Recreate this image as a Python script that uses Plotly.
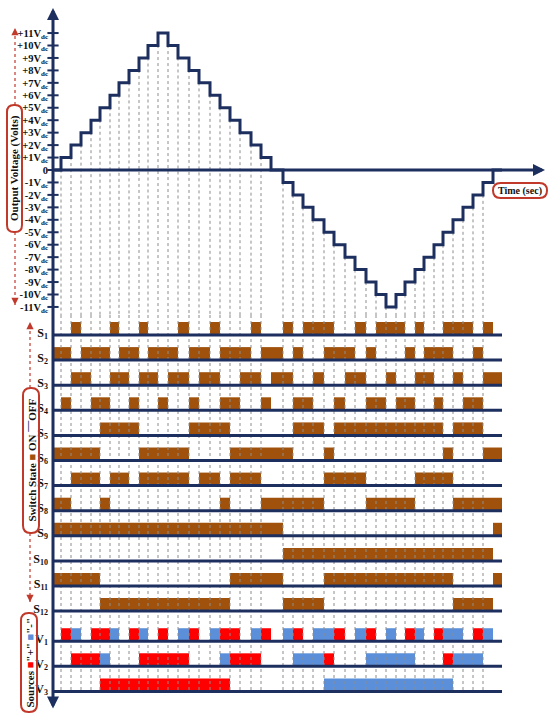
import plotly.graph_objects as go

# ---------------------------------------------------------------------------
# Waveform data: 23-level staircase over one fundamental cycle
# ---------------------------------------------------------------------------
# switching instants (time units, cycle starts at 0)
t_edges = [0, 8, 18, 28, 38, 47, 57, 66, 76, 86, 95, 105, 115, 125, 136, 146,
           157, 167, 177, 187, 198, 208, 218, 230, 240, 250, 260, 271, 281,
           292, 302, 313, 323, 333, 343, 352, 362, 371, 381, 390, 400, 410,
           420, 430, 440, 449]

# output level (multiples of Vdc) held between consecutive instants
levels = [0, 1, 2, 3, 4, 5, 6, 7, 8, 9, 10, 11, 10, 9, 8, 7, 6, 5, 4, 3, 2, 1, 0,
          -1, -2, -3, -4, -5, -6, -7, -8, -9, -10, -11, -10, -9, -8, -7, -6,
          -5, -4, -3, -2, -1, 0]

# conducting intervals of each switch (index of the interval in `levels`)
s1_on = [2, 6, 9, 13, 16, 20, 23, 25, 26, 27, 30, 32, 33, 34, 36, 39, 40, 41, 43]
s2_on = [0, 1, 3, 4, 5, 7, 8, 10, 11, 12, 14, 15, 17, 18, 19, 21, 22, 24,
         27, 28, 29, 31, 35, 37, 38, 39, 42]
s3_on = [2, 3, 6, 7, 9, 10, 12, 13, 15, 16, 19, 20, 22, 23, 26, 29, 30, 33,
         36, 37, 40, 43, 44]
s4_on = [1, 4, 5, 8, 11, 14, 17, 18, 21, 24, 25, 28, 31, 32, 34, 35, 38, 41, 42]
s5_on = [5, 6, 7, 8, 14, 15, 16, 17, 24, 25, 26, 28, 29, 30, 31, 32, 33, 34,
         35, 36, 37, 38, 40, 41, 42]
s6_on = [0, 1, 2, 3, 4, 9, 10, 11, 12, 13, 18, 19, 20, 21, 22, 23, 27, 39, 43, 44]
s7_on = [2, 3, 4, 6, 7, 9, 10, 11, 12, 13, 15, 16, 18, 19, 20, 27, 28, 29, 30,
         36, 37, 38, 39]
s8_on = [0, 1, 5, 17, 21, 22, 23, 24, 25, 26, 31, 32, 33, 34, 35, 40, 41, 42, 43, 44]
s9_on = list(range(0, 23)) + [44]
s10_on = list(range(23, 44))
s11_on = [0, 1, 2, 3, 4, 18, 19, 20, 21, 22] + list(range(27, 40)) + [44]
s12_on = list(range(5, 18)) + [23, 24, 25, 26, 40, 41, 42, 43]

# dc sources: intervals inserted with "+" polarity and with "-" polarity
v1_pos = [1, 4, 5, 8, 11, 14, 17, 18, 21, 24, 28, 31, 35, 38, 42]
v1_neg = [2, 6, 9, 13, 16, 20, 23, 26, 27, 30, 33, 36, 39, 40, 43]
v2_pos = [2, 3, 4, 9, 10, 11, 12, 13, 18, 19, 20, 27, 39]
v2_neg = [5, 17, 24, 25, 26, 31, 32, 33, 34, 35, 40, 41, 42]
v3_pos = list(range(5, 18))
v3_neg = list(range(27, 40))


def sub(text, size):
    """Lowered, smaller index text."""
    return ("<span style='font-size:%spx;baseline-shift:-%spx'>%s</span>"
            % (size, round(size * 0.25, 1), text))


switch_labels = ["S" + sub(str(k), 8) for k in range(1, 13)]
source_labels = ["V" + sub(str(k), 8) for k in range(1, 4)]

level_ticks = list(range(-11, 12))
level_labels = [("+%dV" % v + sub("dc", 7)) if v > 0 else
                ("0" if v == 0 else "%dV" % v + sub("dc", 7)) for v in level_ticks]

# ---------------------------------------------------------------------------
# Layout geometry (page pixels)
# ---------------------------------------------------------------------------
W, H = 549, 715
ORIGIN_X = 53          # time origin / vertical axis
ZERO_Y = 170           # 0 V line
LEVEL_PX = 12.45       # pixels per Vdc
SPLIT_Y = 315          # border between the voltage panel and the state panel
ROW0_Y = 335           # baseline of S1
ROW_PX = 25.1          # row pitch
BAR_H = 13 / ROW_PX    # height of an ON block (row units)

NAVY = "#1c2f5e"
BROWN = "#a0520c"
RED = "#ff0000"
BLUE = "#5b8fd9"
GUIDE = "#8c8c8c"
BOX_RED = "#c0392b"
FONT = "Liberation Serif"

switch_rows = [s1_on, s2_on, s3_on, s4_on, s5_on, s6_on, s7_on, s8_on,
               s9_on, s10_on, s11_on, s12_on]
switch_pos = list(range(12))
source_pos = [12.2, 13.2, 14.2]
source_rows = [(v1_pos, v1_neg), (v2_pos, v2_neg), (v3_pos, v3_neg)]


def runs(idx):
    """Merge consecutive interval indices into (first, last) runs."""
    idx = sorted(idx)
    out = []
    for i in idx:
        if out and i == out[-1][1] + 1:
            out[-1][1] = i
        else:
            out.append([i, i])
    return out


def px(x):
    return x / W


def py(y):
    return 1 - y / H


fig = go.Figure()

# ---- dotted guide lines at every switching instant ------------------------
guide_idx = [k for k in range(1, len(levels)) if k not in (22, 44)]
gx_top, gy_top, gx_bot, gy_bot = [], [], [], []
top_min = (ZERO_Y - SPLIT_Y) / LEVEL_PX
bot_max = (ROW0_Y - SPLIT_Y) / ROW_PX
for k in guide_idx:
    a, b = levels[k - 1], levels[k]
    corner = max(a, b) if (a + b) > 0 else min(a, b)
    gx_top += [t_edges[k], t_edges[k], None]
    gy_top += [corner, top_min, None]
    gx_bot += [t_edges[k], t_edges[k], None]
    gy_bot += [bot_max, -source_pos[-1], None]

fig.add_trace(go.Scatter(x=gx_top, y=gy_top, mode="lines", yaxis="y",
                         line=dict(color=GUIDE, width=1, dash="dot"),
                         hoverinfo="skip"))
fig.add_trace(go.Scatter(x=gx_bot, y=gy_bot, mode="lines", yaxis="y2",
                         line=dict(color=GUIDE, width=1, dash="dot"),
                         hoverinfo="skip"))


# ---- ON blocks ------------------------------------------------------------
def add_blocks(idx_list, base, color):
    xs, ws = [], []
    for a, b in runs(idx_list):
        t0, t1 = t_edges[a], t_edges[b + 1]
        xs.append((t0 + t1) / 2)
        ws.append(t1 - t0)
    if not xs:
        return
    fig.add_trace(go.Bar(x=xs, width=ws, y=[BAR_H] * len(xs),
                         base=[base] * len(xs), yaxis="y2",
                         marker=dict(color=color, line=dict(width=0)),
                         hoverinfo="skip"))


for row, pos in zip(switch_rows, switch_pos):
    add_blocks(row, -pos, BROWN)
for (pos_idx, neg_idx), pos in zip(source_rows, source_pos):
    add_blocks(pos_idx, -pos, RED)
    add_blocks(neg_idx, -pos, BLUE)

# ---- row baselines --------------------------------------------------------
bx, by = [], []
for pos in switch_pos + source_pos:
    bx += [t_edges[0], t_edges[-1], None]
    by += [-pos, -pos, None]
fig.add_trace(go.Scatter(x=bx, y=by, mode="lines", yaxis="y2",
                         line=dict(color=NAVY, width=3), hoverinfo="skip"))

# ---- staircase output voltage --------------------------------------------
fig.add_trace(go.Scatter(x=t_edges, y=levels + [levels[-1]], mode="lines",
                         line=dict(color=NAVY, width=3, shape="hv"),
                         yaxis="y", hoverinfo="skip"))

# cross ticks on the voltage axis
fig.add_trace(go.Scatter(x=[0] * len(level_ticks), y=level_ticks, mode="markers",
                         yaxis="y",
                         marker=dict(symbol="line-ew", size=8,
                                     line=dict(color=NAVY, width=2)),
                         hoverinfo="skip"))

# ---- axes -------------------------------------------------------------------
split = py(SPLIT_Y)
fig.update_layout(
    width=W, height=H, margin=dict(l=0, r=0, t=0, b=0),
    paper_bgcolor="white", plot_bgcolor="white",
    showlegend=False, barmode="overlay",
    xaxis=dict(domain=[0, 1], range=[-ORIGIN_X, W - ORIGIN_X], visible=False,
               anchor="y2"),
    yaxis=dict(domain=[split, 1],
               range=[top_min, ZERO_Y / LEVEL_PX],
               anchor="free", position=px(ORIGIN_X),
               showgrid=False, zeroline=False, showline=False, ticks="",
               tickvals=level_ticks, ticktext=level_labels,
               ticklabelstandoff=5,
               tickfont=dict(family=FONT, size=10.5, color="#111111",
                             weight="bold")),
    yaxis2=dict(domain=[0, split],
                range=[-(H - ROW0_Y) / ROW_PX, bot_max],
                anchor="free", position=px(ORIGIN_X),
                showgrid=False, zeroline=False, showline=False, ticks="",
                tickvals=[-p + 0.1 for p in switch_pos + source_pos],
                ticktext=switch_labels + source_labels,
                ticklabelstandoff=5,
                tickfont=dict(family=FONT, size=12, color="#111111",
                              weight="bold")),
)

# vertical axis with arrowheads at both ends
fig.add_annotation(x=px(ORIGIN_X), y=py(8), xref="paper", yref="paper",
                   ax=0, ay=702, axref="pixel", ayref="pixel", text="",
                   showarrow=True, arrowhead=2, arrowside="end+start",
                   arrowwidth=3, arrowsize=0.8, arrowcolor=NAVY)
# time axis
fig.add_annotation(x=W - 4 - ORIGIN_X, y=0, xref="x", yref="y",
                   ax=0, ay=0, axref="x", ayref="y", text="",
                   showarrow=True, arrowhead=2, arrowwidth=3, arrowsize=0.8,
                   arrowcolor=NAVY)


# ---- rounded label boxes ---------------------------------------------------
def rounded_box(x0, y0, x1, y1, r):
    pts = [("M", [(x0 + r, y0)]), ("L", [(x1 - r, y0)]),
           ("Q", [(x1, y0), (x1, y0 + r)]), ("L", [(x1, y1 - r)]),
           ("Q", [(x1, y1), (x1 - r, y1)]), ("L", [(x0 + r, y1)]),
           ("Q", [(x0, y1), (x0, y1 - r)]), ("L", [(x0, y0 + r)]),
           ("Q", [(x0, y0), (x0 + r, y0)])]
    path = ""
    for cmd, ps in pts:
        path += cmd + " " + " ".join("%.5f,%.5f" % (px(a), py(b)) for a, b in ps) + " "
    fig.add_shape(type="path", path=path + "Z", xref="paper", yref="paper",
                  line=dict(color=BOX_RED, width=2),
                  fillcolor="rgba(0,0,0,0)", layer="above")


def box_text(x, y, text, size, angle=-90):
    fig.add_annotation(x=px(x), y=py(y), xref="paper", yref="paper",
                       xanchor="center", yanchor="middle",
                       text=text, showarrow=False, textangle=angle,
                       font=dict(family=FONT, size=size, color="#111111",
                                 weight="bold"))


def dotted_arrow(x, y_from, y_tip):
    fig.add_shape(type="line", xref="paper", yref="paper",
                  x0=px(x), x1=px(x), y0=py(y_from), y1=py(y_tip),
                  line=dict(color=BOX_RED, width=1.2, dash="dot"))
    direction = 1 if y_tip < y_from else -1
    fig.add_annotation(x=px(x), y=py(y_tip), xref="paper", yref="paper",
                       ax=0, ay=7 * direction, text="", showarrow=True,
                       arrowhead=2, arrowwidth=1.2, arrowsize=1.2,
                       arrowcolor=BOX_RED)


rounded_box(7, 105, 22, 232, 7)
box_text(14.5, 168.5, "Output Voltage (Volts)", 11)
dotted_arrow(15, 105, 28)
dotted_arrow(15, 232, 305)

rounded_box(23, 388, 39, 533, 7.5)
box_text(31, 460.5,
         "Switch State <span style='color:%s'>■</span> ON "
         "<span style='color:%s'>¯¯</span>OFF" % (BROWN, NAVY), 11)
dotted_arrow(30, 388, 322)
dotted_arrow(30, 533, 602)

rounded_box(21, 613, 37, 712, 7.5)
box_text(29, 662.5,
         "Sources <span style='color:%s'>■</span>\"+\" "
         "<span style='color:%s'>■</span>\"-\"" % (RED, BLUE), 11)

rounded_box(493, 183, 547, 198, 7.5)
box_text(520, 190.5, "Time (sec)", 10, angle=0)

fig.write_html("out.html")
